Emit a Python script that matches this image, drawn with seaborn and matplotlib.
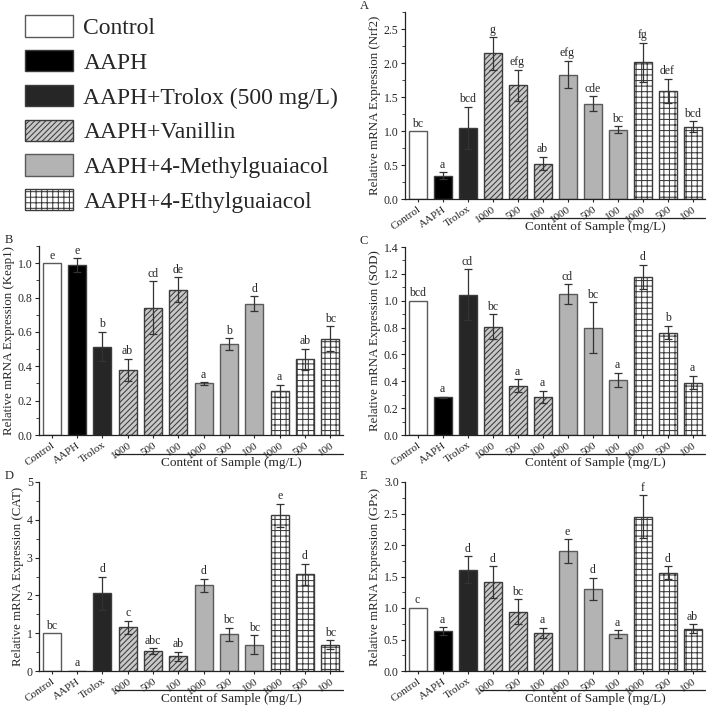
import matplotlib
matplotlib.use('Agg')
import matplotlib.pyplot as plt
import matplotlib.ticker as mticker
from matplotlib.patches import Patch
from matplotlib.transforms import blended_transform_factory
import seaborn as sns
import numpy as np
import pandas as pd

sns.set_style('ticks')
plt.rcParams['font.family'] = ['Liberation Serif', 'DejaVu Serif']
plt.rcParams['hatch.linewidth'] = 0.75

# ---------------- data ----------------
bar_keys = ['Control', 'AAPH', 'Trolox', 'V1000', 'V500', 'V100',
            'M1000', 'M500', 'M100', 'E1000', 'E500', 'E100']
tick_labels = ['Control', 'AAPH', 'Trolox', '1000', '500', '100',
               '1000', '500', '100', '1000', '500', '100']
bar_group = ['Control', 'AAPH', 'Trolox', 'Vanillin', 'Vanillin', 'Vanillin',
             'Methyl', 'Methyl', 'Methyl', 'Ethyl', 'Ethyl', 'Ethyl']
legend_labels = ['Control', 'AAPH', 'AAPH+Trolox (500 mg/L)', 'AAPH+Vanillin',
                 'AAPH+4-Methylguaiacol', 'AAPH+4-Ethylguaiacol']

nrf2 = [1.00, 0.34, 1.05, 2.14, 1.67, 0.52, 1.83, 1.40, 1.02, 2.01, 1.59, 1.06]
nrf2_err = [0.0, 0.05, 0.31, 0.24, 0.23, 0.10, 0.20, 0.11, 0.05, 0.29, 0.18, 0.08]
nrf2_sig = ['bc', 'a', 'bcd', 'g', 'efg', 'ab', 'efg', 'cde', 'bc', 'fg', 'def', 'bcd']

keap1 = [1.00, 0.99, 0.515, 0.38, 0.742, 0.845, 0.30, 0.53, 0.765, 0.258, 0.44, 0.56]
keap1_err = [0.0, 0.04, 0.085, 0.065, 0.152, 0.072, 0.008, 0.034, 0.043, 0.034, 0.063, 0.074]
keap1_sig = ['e', 'e', 'b', 'ab', 'cd', 'de', 'a', 'b', 'd', 'a', 'ab', 'bc']

sod = [1.00, 0.28, 1.046, 0.805, 0.367, 0.285, 1.048, 0.80, 0.41, 1.177, 0.763, 0.39]
sod_err = [0.0, 0.005, 0.19, 0.093, 0.047, 0.045, 0.074, 0.19, 0.055, 0.09, 0.05, 0.05]
sod_sig = ['bcd', 'a', 'cd', 'bc', 'a', 'a', 'cd', 'bc', 'a', 'd', 'b', 'a']

cat = [1.00, 0.0, 2.06, 1.16, 0.53, 0.39, 2.27, 0.97, 0.70, 4.12, 2.56, 0.69]
cat_err = [0.0, 0.0, 0.44, 0.17, 0.07, 0.12, 0.17, 0.17, 0.25, 0.30, 0.28, 0.12]
cat_sig = ['bc', 'a', 'd', 'c', 'abc', 'ab', 'd', 'bc', 'bc', 'e', 'd', 'bc']

gpx = [1.00, 0.636, 1.61, 1.41, 0.94, 0.61, 1.90, 1.30, 0.59, 2.45, 1.56, 0.67]
gpx_err = [0.0, 0.06, 0.21, 0.25, 0.20, 0.08, 0.19, 0.18, 0.06, 0.34, 0.10, 0.07]
gpx_sig = ['c', 'a', 'd', 'd', 'bc', 'a', 'e', 'd', 'a', 'f', 'd', 'ab']

# ---------------- styles ----------------
face = {'Control': '#ffffff', 'AAPH': '#000000', 'Trolox': '#262626',
        'Vanillin': '#c8c8c8', 'Methyl': '#b3b3b3', 'Ethyl': '#ffffff'}
hatch = {'Control': '', 'AAPH': '', 'Trolox': '', 'Vanillin': '//////',
         'Methyl': '', 'Ethyl': '+++'}
edge = '#3c3c3c'

W, H = 710, 706
fig = plt.figure(figsize=(W / 100, H / 100), dpi=100)


def px_axes(l, r, b, t):
    return fig.add_axes([l / W, 1 - b / H, (r - l) / W, (b - t) / H])


panels = [
    ('A', nrf2, nrf2_err, nrf2_sig, 'Relative mRNA Expression (Nrf2)', 2.75, 0.5, 0.25, '%.1f', (405, 705, 199, 12)),
    ('B', keap1, keap1_err, keap1_sig, 'Relative mRNA Expression (Keap1)', 1.1, 0.2, 0.1, '%.1f', (39, 343, 435, 246)),
    ('C', sod, sod_err, sod_sig, 'Relative mRNA Expression (SOD)', 1.4, 0.2, 0.1, '%.1f', (405, 705, 435, 247)),
    ('D', cat, cat_err, cat_sig, 'Relative mRNA Expression (CAT)', 5.0, 1.0, 0.5, '%d', (39, 343, 671, 482)),
    ('E', gpx, gpx_err, gpx_sig, 'Relative mRNA Expression (GPx)', 3.0, 0.5, 0.25, '%.1f', (405, 705, 671, 482)),
]

for letter, vals, errs, sigs, ylab, ytop, major, minor, fmt, box in panels:
    ax = px_axes(*box)
    df = pd.DataFrame({'key': bar_keys, 'value': vals, 'group': bar_group})
    sns.barplot(data=df, x='key', y='value', hue='group', palette=face,
                dodge=False, order=bar_keys, hue_order=list(face.keys()),
                errorbar=None, legend=False, width=0.72,
                edgecolor=edge, linewidth=1.0, ax=ax)
    for cont, g in zip(ax.containers, list(face.keys())):
        for p in cont:
            p.set_hatch(hatch[g])
            if g in ('Control', 'Methyl'):
                p.set_edgecolor('#5a5a5a')
    x = np.arange(len(bar_keys))
    v = np.array(vals)
    e = np.array(errs)
    m = e > 0
    ax.errorbar(x[m], v[m], yerr=e[m], fmt='none', ecolor='#333333',
                elinewidth=0.9, capsize=3.2, capthick=0.9, zorder=5)
    for xi, vi, ei, s in zip(x, v, e, sigs):
        ax.text(xi, vi + ei + ytop * 0.008, s, ha='center', va='bottom',
                fontsize=8.5)
    ax.set_xlim(-0.5, 11.5)
    ax.set_ylim(0, ytop)
    ax.yaxis.set_major_locator(mticker.MultipleLocator(major))
    ax.yaxis.set_minor_locator(mticker.MultipleLocator(minor))
    ax.yaxis.set_major_formatter(mticker.FormatStrFormatter(fmt))
    ax.set_xticks(x)
    ax.set_xticklabels(tick_labels, rotation=35, ha='right',
                       rotation_mode='anchor', fontsize=8)
    ax.tick_params(axis='y', labelsize=8.5, length=3, width=0.8, pad=1.5)
    ax.tick_params(axis='y', which='minor', length=2, width=0.6)
    ax.tick_params(axis='x', length=2.5, width=0.8, pad=1.5)
    ax.set_xlabel('')
    ax.set_ylabel(ylab, fontsize=9.3, labelpad=2)
    for sp in ('top', 'right'):
        ax.spines[sp].set_visible(False)
    for sp in ('left', 'bottom'):
        ax.spines[sp].set_linewidth(0.9)
        ax.spines[sp].set_color('#222222')
    tr = blended_transform_factory(ax.transData, ax.transAxes)
    ax.plot([2.5, 11.5], [-0.10, -0.10], transform=tr, clip_on=False,
            color='#222222', lw=0.9)
    ax.text(7.1, -0.148, 'Content of Sample (mg/L)', transform=tr,
            ha='center', va='center', fontsize=9.5)
    lx = 5 if box[0] < 100 else 360
    fig.text(lx / W, 1 - (box[3] - 6) / H, letter, fontsize=9, va='center',
             ha='left')

handles = [Patch(facecolor=face[g], edgecolor=('#5a5a5a' if g in ('Control', 'Methyl') else edge),
                 hatch=hatch[g], linewidth=1.0)
           for g in face.keys()]
fig.legend(handles, legend_labels, loc='upper left',
           bbox_to_anchor=(16 / W, 1 - 6 / H), frameon=False, fontsize=17,
           handlelength=2.0, handleheight=1.0, handletextpad=0.45,
           labelspacing=0.47, borderaxespad=0)

fig.savefig('out.png', dpi=100)
